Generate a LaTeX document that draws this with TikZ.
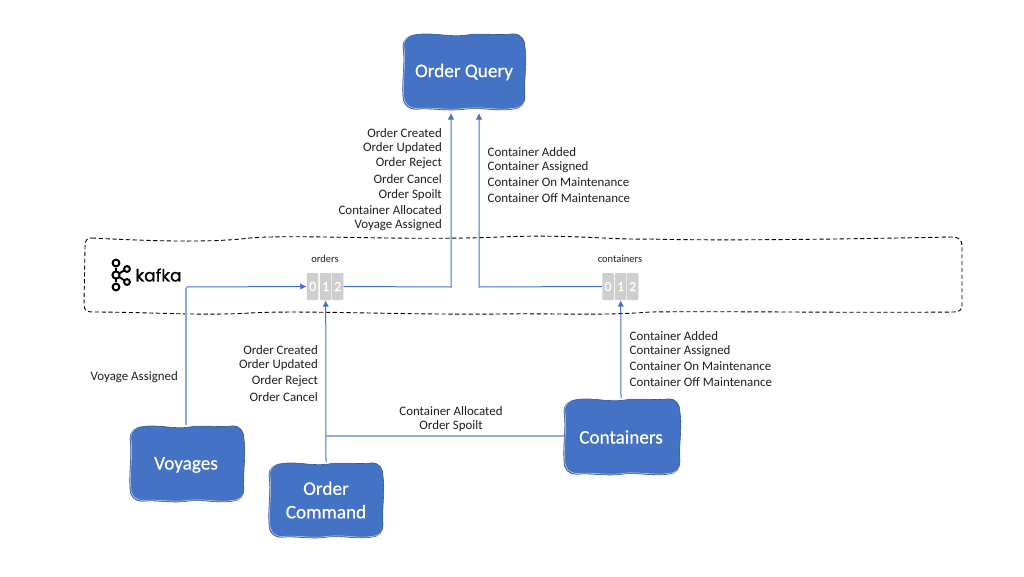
\documentclass[tikz,border=0pt]{standalone}
\usepackage{fontspec}
\setmainfont{Carlito}
\newfontfamily\logofont[FakeBold=1.0]{Poppins}
\newfontfamily\blobfont[FakeBold=0.5]{Carlito}
\definecolor{blobblue}{HTML}{4472C4}
\definecolor{lineblue}{HTML}{4472C4}
\definecolor{lightblue}{HTML}{8FAADC}
\definecolor{cellgray}{HTML}{CFCDCE}
\definecolor{inkdark}{HTML}{1F1F1F}
\usetikzlibrary{arrows.meta}
\tikzset{
  x=1pt,y=-1pt,
  blobfill/.style={fill=blobblue,draw=blobblue!75!black,line width=.6pt},
  blobsketch/.style={draw=white,line width=.5pt,opacity=.75},
  blobtext/.style={text=white,font=\blobfont\fontsize{19.2}{23.5}\selectfont,align=center,inner sep=0pt},
  evt/.style={font=\fontsize{12.9}{15.4}\selectfont,text=inkdark,inner sep=0pt},
  wire/.style={draw=lineblue,line width=1pt},
  wirelight/.style={draw=lightblue,line width=1.5pt},
  tip/.style={-{Latex[length=6.5pt,width=6.5pt]}},
  cell/.style={fill=cellgray,rounded corners=1pt,minimum width=11.5pt,minimum height=27pt,inner sep=0pt,text=white,font=\blobfont\fontsize{14}{14}\selectfont},
  topic/.style={font=\fontsize{10.5}{12}\selectfont,text=inkdark,inner sep=0pt},
  logo/.style={draw=black,line width=2pt},
  boxdash/.style={draw=black,line width=.9pt,dash pattern=on 4.2pt off 2.6pt},
}
\newcommand{\blobpath}{%
      (.11,.02) .. controls (.25,-.01) and (.35,.05) .. (.5,.03)
      .. controls (.65,-.01) and (.78,.04) .. (.9,.01)
      .. controls (.97,.01) and (1,.09) .. (1,.18)
      .. controls (1.02,.38) and (.99,.6) .. (1,.82)
      .. controls (1,.93) and (.97,.98) .. (.89,.99)
      .. controls (.75,1.02) and (.65,.96) .. (.5,.99)
      .. controls (.35,1.02) and (.24,.97) .. (.11,.99)
      .. controls (.04,.99) and (0,.93) .. (0,.82)
      .. controls (-.01,.6) and (.02,.38) .. (0,.18)
      .. controls (0,.08) and (.04,.03) .. (.11,.02) -- cycle}
\newcommand{\blobshape}[4]{%
  \begin{scope}[shift={(#1,#2)},x=#3pt,y=-#4pt]
    \path[blobfill] \blobpath;
    \path[blobsketch,xshift=.8pt,yshift=.8pt] \blobpath;
  \end{scope}}
\begin{document}
\begin{tikzpicture}
\useasboundingbox (0,0) rectangle (1024,576);
\fill[white] (0,0) rectangle (1024,576);

% dashed Kafka cluster boundary
\path[boxdash] (92,238) .. controls (150,241) and (210,243) .. (250,238)
  .. controls (300,234) and (400,241) .. (500,237)
  .. controls (570,234) and (610,240) .. (650,239)
  .. controls (720,241) and (850,239) .. (952,237)
  .. controls (959,237) and (962,240) .. (962,246)
  -- (962,305) .. controls (962,310) and (959,312) .. (954,312)
  .. controls (850,313) and (720,311) .. (650,312)
  .. controls (600,316) and (550,313) .. (500,314)
  .. controls (400,315) and (300,310) .. (250,313)
  .. controls (200,316) and (150,312) .. (92,312)
  .. controls (87,312) and (84,310) .. (84,305)
  -- (85,246) .. controls (85,240) and (87,238) .. (92,238) -- cycle;

% blobs
\blobshape{403}{33}{122}{77}
\blobshape{130}{425}{114}{77}
\blobshape{269}{462}{114}{76}
\blobshape{564}{398}{116}{77}
\node[blobtext] (query) at (464,72) {Order Query};
\node[blobtext] (voyages) at (186,465) {Voyages};
\node[blobtext] (command) at (326,500) {Order\\Command};
\node[blobtext] (containers) at (621,437) {Containers};
\coordinate (queryL) at (451,113);
\coordinate (queryR) at (479,113);
\coordinate (voyagesT) at (186,425);
\coordinate (commandT) at (326,462);
\coordinate (containersL) at (564,436);
\coordinate (containersT) at (621,398);
\coordinate (commandJ) at (326,436);

% partitions
\node[cell] (o0) at (312.7,286.5) {0};
\node[cell] (o1) at (325.7,286.5) {1};
\node[cell] (o2) at (337.7,286.5) {2};
\node[cell] (c0) at (608,286.5) {0};
\node[cell] (c1) at (620.7,286.5) {1};
\node[cell] (c2) at (632.7,286.5) {2};
\node[topic] (ordersL) at (325,258.7) {orders};
\node[topic] (containersTopic) at (620,258.7) {containers};

% connectors
\draw[wirelight] (voyagesT) -- (186,288);
\draw[wire,tip] (186,287) -- (o0.west);
\draw[wire,tip] (commandT) -- (o1.south);
\draw[wirelight] (containersL) -- (commandJ);
\draw[wire,tip] (containersT) -- (c1.south);
\draw[wire,tip] (o2.east) -- (451,287) -- (queryL);
\draw[wire,tip] (c0.west) -- (479,287) -- (queryR);

% kafka logo
\begin{scope}
  \draw[logo] (116,268) -- (116,282);
  \draw[logo] (116,275) -- (127,269);
  \draw[logo] (116,275) -- (127,282);
  \draw[logo,fill=white] (116,263) circle (3.4);
  \draw[logo,fill=white] (116,287) circle (3.4);
  \draw[logo,fill=white] (116,275) circle (3.6);
  \draw[logo,fill=white] (127,269) circle (2.9);
  \draw[logo,fill=white] (127,282) circle (2.9);
\end{scope}
\node[font=\logofont\fontsize{17}{20}\selectfont,text=black,inner sep=0pt] (kafka) at (158.5,275) {kafka};

% event labels
\node[evt,anchor=east] (a1) at (442,132.6) {Order Created};
\node[evt,anchor=east] (a2) at (442,148.1) {Order Updated};
\node[evt,anchor=east] (a3) at (442,163.6) {Order Reject};
\node[evt,anchor=east] (a4) at (442,178.6) {Order Cancel};
\node[evt,anchor=east] (a5) at (442,194.6) {Order Spoilt};
\node[evt,anchor=east] (a6) at (442,209.6) {Container Allocated};
\node[evt,anchor=east] (a7) at (442,225.1) {Voyage Assigned};

\node[evt,anchor=west] (b1) at (487.5,152.1) {Container Added};
\node[evt,anchor=west] (b2) at (487.5,167.1) {Container Assigned};
\node[evt,anchor=west] (b3) at (487.5,182.6) {Container On Maintenance};
\node[evt,anchor=west] (b4) at (487.5,198.1) {Container Off Maintenance};

\node[evt,anchor=east] (v1) at (178,377.6) {Voyage Assigned};

\node[evt,anchor=east] (d1) at (318,349.6) {Order Created};
\node[evt,anchor=east] (d2) at (318,364.6) {Order Updated};
\node[evt,anchor=east] (d3) at (318,381.6) {Order Reject};
\node[evt,anchor=east] (d4) at (318,396.6) {Order Cancel};

\node[evt] (e1) at (451,411.1) {Container Allocated};
\node[evt] (e2) at (451,426.1) {Order Spoilt};

\node[evt,anchor=west] (f1) at (629.5,335.6) {Container Added};
\node[evt,anchor=west] (f2) at (629.5,351.1) {Container Assigned};
\node[evt,anchor=west] (f3) at (629.5,366.6) {Container On Maintenance};
\node[evt,anchor=west] (f4) at (629.5,381.6) {Container Off Maintenance};
\end{tikzpicture}
\end{document}
